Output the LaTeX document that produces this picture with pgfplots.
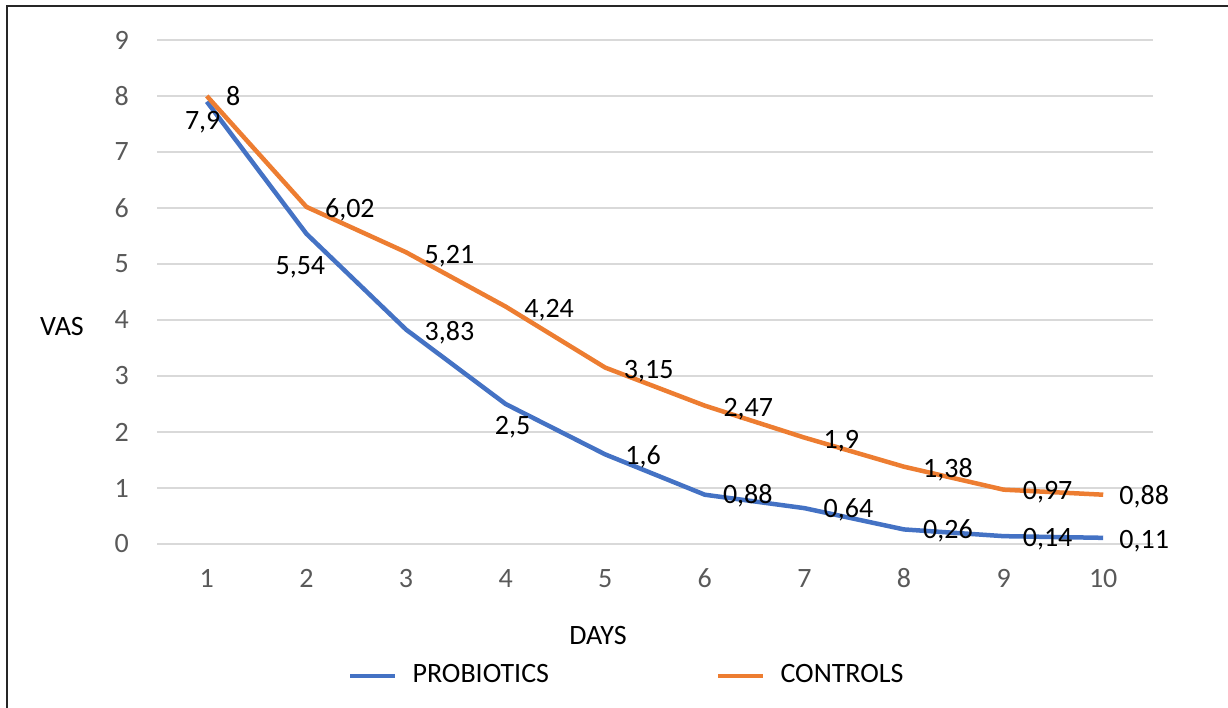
\documentclass[border=0pt]{standalone}
\usepackage{fontspec}
\setmainfont{Carlito}
\usepackage{pgfplots}
\usepackage{pgfplotstable}
\pgfplotsset{compat=1.18}
\definecolor{vblue}{HTML}{4472C4}
\definecolor{vorange}{HTML}{ED7D31}
\definecolor{vgrid}{HTML}{D9D9D9}
\definecolor{vtick}{HTML}{595959}
\pgfplotstableread{
x  p     pdx    pdy    c     cdx   cdy
1  7.9   -22    -28    8     19    -10
2  5.54  -31    -41    6.02  18.5  -11
3  3.83  18.5   -11    5.21  18.5  -11
4  2.5   -11    -31    4.24  18.5  -11
5  1.6   20     -10    3.15  18.5  -11
6  0.88  18     -9     2.47  18.5  -11
7  0.64  19     -9     1.9   19    -11
8  0.26  19     -9     1.38  19    -11
9  0.14  19     -10    0.97  19    -10
10 0.11  16     -11    0.88  16    -10
}\data
\begin{document}
\fontsize{28}{33}\selectfont
\begin{tikzpicture}
\path[use as bounding box] (0pt,0pt) rectangle (1228pt,708pt);
\draw[line width=2pt, color=black!85] (7pt,0pt) -- (7pt,702pt) -- (1228pt,702pt);
\begin{axis}[
  at={(157pt,164pt)}, anchor=south west,
  scale only axis, width=996pt, height=504pt,
  xmin=0.5, xmax=10.5, ymin=0, ymax=9,
  xtick={1,...,10}, ytick={0,...,9},
  axis line style={draw=none}, major tick length=0pt,
  ymajorgrids, grid style={vgrid, line width=1.8pt},
  clip=false,
  /pgf/number format/assume math mode=true,
  yticklabel style={anchor=east, inner sep=0pt, xshift=-28pt, text=vtick},
  xticklabel style={anchor=base, inner sep=0pt, yshift=-44pt, text=vtick},
  xlabel={DAYS}, ylabel={VAS},
  xlabel style={at={(axis description cs:0.4428,-0.1825)}, anchor=center, text=black},
  ylabel style={rotate=-90, at={(axis description cs:-0.0954,0.4306)}, anchor=center, text=black},
  legend columns=2,
  legend cell align=left,
  legend image code/.code={\draw[#1] (0pt,0pt) -- (45pt,0pt);},
  legend style={at={(axis description cs:0.1918,-0.2619)}, anchor=west,
    draw=none, fill=none, inner sep=0pt, outer sep=0pt,
    nodes={inner sep=0pt, text=black},
    /tikz/every odd column/.append style={column sep=15pt},
    /tikz/every even column/.append style={column sep=167pt}},
]
\addplot[vblue, line width=4.5pt, line join=round] table[x=x, y=p] {\data};
\addlegendentry{PROBIOTICS}
\addplot[vorange, line width=4.5pt, line join=round] table[x=x, y=c] {\data};
\addlegendentry{CONTROLS}
\addplot[draw=none, forget plot, nodes near coords, point meta=y,
  visualization depends on={\thisrow{pdx}\as\dx},
  visualization depends on={\thisrow{pdy}\as\dy},
  nodes near coords style={anchor=base west, inner sep=0pt, xshift=\dx pt, yshift=\dy pt, text=black,
    /pgf/number format/use comma, /pgf/number format/assume math mode=true}]
  table[x=x, y=p] {\data};
\addplot[draw=none, forget plot, nodes near coords, point meta=y,
  visualization depends on={\thisrow{cdx}\as\dx},
  visualization depends on={\thisrow{cdy}\as\dy},
  nodes near coords style={anchor=base west, inner sep=0pt, xshift=\dx pt, yshift=\dy pt, text=black,
    /pgf/number format/use comma, /pgf/number format/assume math mode=true}]
  table[x=x, y=c] {\data};
\end{axis}
\end{tikzpicture}
\end{document}
